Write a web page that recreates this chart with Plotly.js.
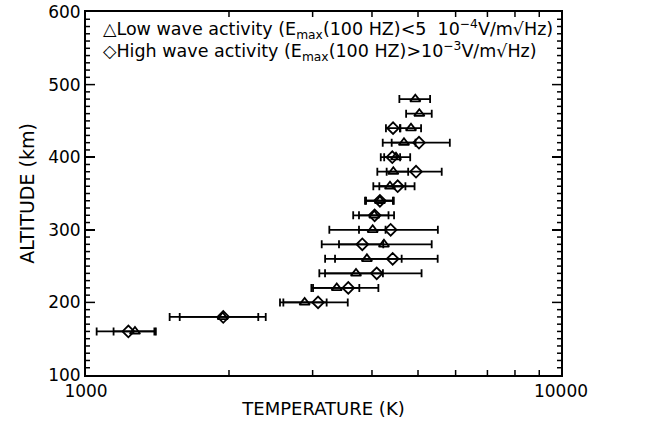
<!DOCTYPE html>
<html>
<head>
<meta charset="utf-8">
<script src="https://cdn.plot.ly/plotly-3.0.1.min.js"></script>
<style>html,body{margin:0;padding:0;background:#fff;}#chart{width:657px;height:431px;}</style>
</head>
<body>
<div id="chart"></div>
<script>
// Low wave activity (triangles)
const lowAlt = [160,180,200,220,240,260,280,300,320,340,360,380,400,420,440,460,480];
const lowTemp = [1268,1940,2886,3372,3702,3903,4239,4014,4045,4157,4365,4436,4494,4671,4833,5032,4935];
const lowErr = [125,365,325,390,516,716,1104,258,289,290,339,331,320,270,242,312,367];
// High wave activity (diamonds)
const highAlt = [160,180,200,220,240,260,280,300,320,340,360,380,400,420,440];
const highTemp = [1228,1945,3080,3566,4093,4422,3817,4379,4052,4157,4531,4952,4414,5024,4430];
const highErr = [175,445,477,560,994,1078,408,1126,400,270,386,657,170,810,150];

const xTickVals = [1000,10000];
const xTickText = ['1000','10000'];
const xMinorVals = [2000,3000,4000,5000,6000,7000,8000,9000];
const yMajorVals = [100,200,300,400,500,600];
const yMajorText = ['100','200','300','400','500','600'];
const yMinorVals = [];
for (let v = 110; v < 600; v += 10) if (v % 100 !== 0) yMinorVals.push(v);

const legendLow = '\u25B3Low wave activity (E<sub>max</sub>(100 HZ)&lt;5&nbsp; 10<sup>\u22124</sup>V/m\u221AHz)';
const legendHigh = '\u25C7High wave activity (E<sub>max</sub>(100 HZ)&gt;10<sup>\u22123</sup>V/m\u221AHz)';

const FONT = 'DejaVu Sans, sans-serif';
const X_RANGE_LOG = [3,4];
const Y_RANGE = [100,600];
const PLOT_W = 475, PLOT_H = 363;

function errSpec(arr){
  return {type:'data', array:arr, visible:true, color:'#000', thickness:1.8, width:4};
}

// Inside tick marks (mirrored) built from the tick arrays, lengths given in pixels
const kmPerPx = (Y_RANGE[1]-Y_RANGE[0]) / PLOT_H;
const decPerPx = (X_RANGE_LOG[1]-X_RANGE_LOG[0]) / PLOT_W;
const xLo = Math.pow(10, X_RANGE_LOG[0]), xHi = Math.pow(10, X_RANGE_LOG[1]);
const tickX = [], tickY = [];
xMinorVals.forEach(v => {
  tickX.push(v, v, null, v, v, null);
  tickY.push(Y_RANGE[0], Y_RANGE[0] + 5*kmPerPx, null, Y_RANGE[1] - 5*kmPerPx, Y_RANGE[1], null);
});
function addYTick(v, len){
  const f = Math.pow(10, len*decPerPx);
  tickX.push(xLo, xLo*f, null, xHi/f, xHi, null);
  tickY.push(v, v, null, v, v, null);
}
yMajorVals.slice(1, -1).forEach(v => addYTick(v, 9));
yMinorVals.forEach(v => addYTick(v, 4));

const traces = [
  {
    x: tickX, y: tickY, type:'scatter', mode:'lines', name:'ticks',
    line:{color:'#000', width:1.5}, connectgaps:false, hoverinfo:'skip', showlegend:false
  },
  {
    x: lowTemp, y: lowAlt, type:'scatter', mode:'markers', name:'low',
    marker:{symbol:'triangle-up-open', size:9, color:'#000', line:{width:1.8, color:'#000'}},
    error_x: errSpec(lowErr), showlegend:false
  },
  {
    x: highTemp, y: highAlt, type:'scatter', mode:'markers', name:'high',
    marker:{symbol:'diamond-open', size:9, color:'#000', line:{width:1.8, color:'#000'}},
    error_x: errSpec(highErr), showlegend:false
  }
];

const layout = {
  width:657, height:431,
  margin:{l:86, r:96, t:12, b:56},
  paper_bgcolor:'#fff', plot_bgcolor:'#fff',
  font:{family:FONT, color:'#000', size:16},
  showlegend:false,
  xaxis:{
    type:'log', range:X_RANGE_LOG,
    tickmode:'array', tickvals:xTickVals, ticktext:xTickText,
    ticks:'inside', ticklen:5, tickwidth:1.5, tickcolor:'#000',
    showline:true, linewidth:2, linecolor:'#000', mirror:'ticks',
    showgrid:false, zeroline:false,
    tickfont:{family:FONT, size:17, color:'#000'},
    title:{text:'TEMPERATURE (K)', font:{family:FONT, size:18, color:'#000'}, standoff:2}
  },
  yaxis:{
    range:Y_RANGE,
    tickmode:'array', tickvals:yMajorVals, ticktext:yMajorText,
    ticks:'inside', ticklen:9, tickwidth:1.5, tickcolor:'#000',
    showline:true, linewidth:2, linecolor:'#000', mirror:'ticks',
    showgrid:false, zeroline:false,
    tickfont:{family:FONT, size:17, color:'#000'},
    title:{text:'ALTITUDE (km)', font:{family:FONT, size:19, color:'#000'}, standoff:8}
  },
  annotations:[
    {xref:'paper', yref:'paper', x:0.032, y:0.952, xanchor:'left', yanchor:'middle', showarrow:false,
     text:legendLow, font:{family:FONT, size:17.5, color:'#000'}},
    {xref:'paper', yref:'paper', x:0.032, y:0.891, xanchor:'left', yanchor:'middle', showarrow:false,
     text:legendHigh, font:{family:FONT, size:17.5, color:'#000'}}
  ]
};

Plotly.newPlot('chart', traces, layout, {staticPlot:true, displayModeBar:false});
</script>
</body>
</html>
